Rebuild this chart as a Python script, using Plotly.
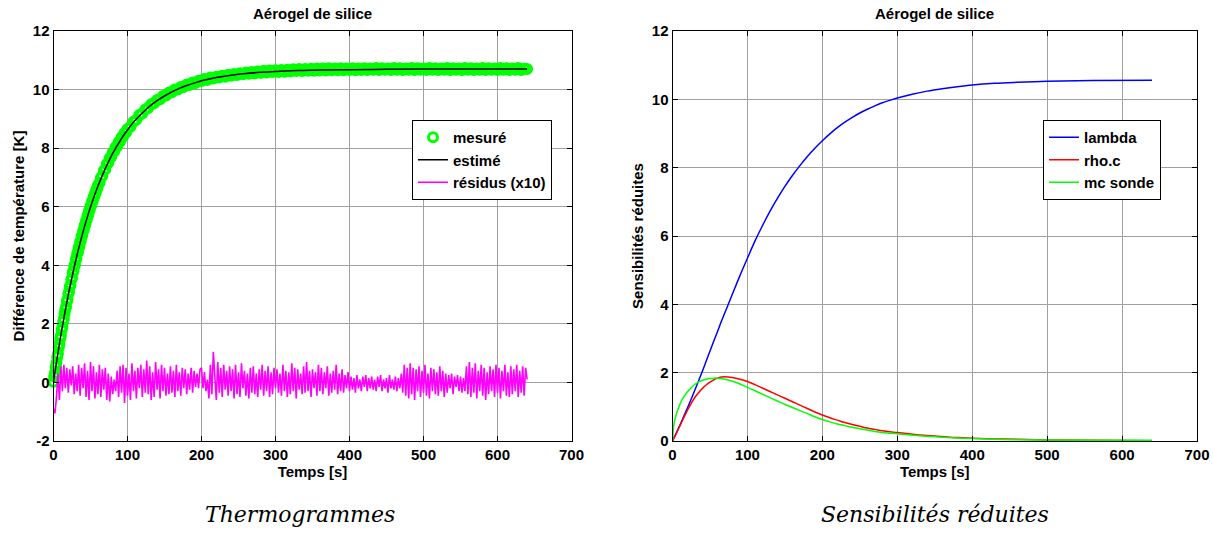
import plotly.graph_objects as go

# ---------------- data ----------------
t_meas_early = list(range(0, 61)) + list(range(62, 99, 2))
t_meas = t_meas_early + list(range(100, 641, 4))
measured = [
    0.02, 0.20, 0.33, 0.53, 0.66, 0.86, 0.98, 1.18, 1.30, 1.49, 1.60, 1.79, 1.89, 2.07, 2.17, 2.35,
    2.50, 2.58, 2.77, 2.84, 3.02, 3.09, 3.27, 3.33, 3.51, 3.57, 3.75, 3.80, 3.97, 4.02, 4.19,
    4.24, 4.40, 4.45, 4.60, 4.65, 4.80, 4.84, 4.99, 5.03, 5.18, 5.21, 5.36, 5.39, 5.53, 5.56,
    5.70, 5.72, 5.86, 5.89, 6.02, 6.04, 6.17, 6.19, 6.32, 6.33, 6.46, 6.47, 6.60, 6.61, 6.73,
    6.81, 6.99, 7.05, 7.23, 7.28, 7.45, 7.50, 7.66, 7.70, 7.85, 7.89, 8.04, 8.06, 8.21, 8.23,
    8.37, 8.39, 8.52, 8.53,
    8.65, 8.73, 8.90, 8.97, 9.13, 9.18, 9.32, 9.37, 9.50, 9.53,
    9.64, 9.67, 9.78, 9.80, 9.90, 9.91, 10.00, 10.00, 10.09, 10.09,
    10.17, 10.16, 10.24, 10.22, 10.30, 10.29, 10.36, 10.33, 10.41, 10.38,
    10.44, 10.41, 10.47, 10.44, 10.51, 10.47, 10.53, 10.50, 10.56, 10.52,
    10.58, 10.54, 10.60, 10.55, 10.62, 10.57, 10.64, 10.58, 10.65, 10.60,
    10.66, 10.60, 10.67, 10.61, 10.68, 10.62, 10.69, 10.63, 10.70, 10.63,
    10.70, 10.64, 10.71, 10.64, 10.72, 10.65, 10.72, 10.65, 10.73, 10.66,
    10.72, 10.66, 10.73, 10.66, 10.72, 10.67, 10.73, 10.66, 10.72, 10.67,
    10.73, 10.67, 10.72, 10.68, 10.74, 10.67, 10.73, 10.68, 10.72, 10.67,
    10.74, 10.68, 10.73, 10.67, 10.72, 10.68, 10.74, 10.67, 10.73, 10.68,
    10.72, 10.67, 10.74, 10.68, 10.73, 10.67, 10.72, 10.68, 10.74, 10.67,
    10.73, 10.68, 10.72, 10.67, 10.74, 10.68, 10.73, 10.67, 10.72, 10.68,
    10.74, 10.67, 10.73, 10.68, 10.72, 10.67, 10.74, 10.68, 10.73, 10.67,
    10.72, 10.68, 10.74, 10.67, 10.71, 10.70]

t_est = [0, 2, 4, 6, 8, 10, 12, 14, 16, 18, 20, 23, 26, 29, 32, 35, 38, 42, 46, 50, 55, 60, 65,
         70, 75, 80, 85, 90, 95, 100, 110, 120, 130, 140, 150, 160, 170, 180, 190, 200, 220,
         240, 260, 280, 300, 330, 360, 400, 450, 500, 560, 640]
estimated = [0, 0.35, 0.68, 1.00, 1.32, 1.62, 1.91, 2.19, 2.47, 2.73, 2.99, 3.36, 3.71, 4.05,
             4.37, 4.67, 4.96, 5.33, 5.67, 5.99, 6.36, 6.70, 7.01, 7.30, 7.57, 7.82, 8.04, 8.25,
             8.45, 8.62, 8.94, 9.20, 9.43, 9.62, 9.78, 9.92, 10.04, 10.14, 10.22, 10.30, 10.41,
             10.49, 10.55, 10.59, 10.62, 10.65, 10.67, 10.68, 10.69, 10.70, 10.70, 10.70]

t_res = list(range(0, 641, 2))
residuals = [
    -0.9, -1.05, -0.5, 0.3, -0.6, 0.55, -0.3, 0.6, -0.2, 0.5, -0.35, 0.45, -0.1, 0.55, -0.4, 0.3, -0.3, 0.6, -0.45, 0.5,
    -0.2, 0.65, -0.5, 0.4, -0.6, 0.7, -0.3, 0.55, -0.55, 0.35, -0.4, 0.6, -0.5, 0.45, -0.25, 0.5, -0.6, 0.3, -0.65, 0.2,
    -0.4, 0.1, -0.3, 0.4, -0.5, 0.55, -0.35, 0.6, -0.7, 0.5, -0.45, 0.3, -0.6, 0.65, -0.3, 0.4, -0.55, 0.5, -0.2, 0.6,
    -0.5, 0.45, -0.35, 0.75, -0.4, 0.55, -0.6, 0.35, -0.5, 0.7, -0.25, 0.45, -0.55, 0.6, -0.3, 0.5, -0.45, 0.3, -0.4, 0.55,
    -0.35, 0.4, -0.5, 0.6, -0.3, 0.35, -0.45, 0.5, -0.2, 0.45, -0.4, 0.3, -0.25, 0.5, -0.35, 0.4, -0.15, 0.3, -0.2, 0.45,
    0.5, -0.2, 0.35, -0.3, 0.1, -0.55, 0.6, -0.4, 1.05, 0.2, -0.6, 0.7, -0.35, 0.5, -0.5, 0.6, -0.25, 0.4, -0.45, 0.55,
    -0.3, 0.45, -0.55, 0.6, -0.4, 0.35, -0.5, 0.65, -0.2, 0.4, -0.45, 0.3, -0.55, 0.5, -0.35, 0.55, -0.4, 0.3, -0.5, 0.45,
    -0.25, 0.6, -0.45, 0.4, -0.3, 0.55, -0.5, 0.35, -0.4, 0.5, -0.2, 0.45, -0.35, 0.3, -0.45, 0.6, -0.3, 0.4, -0.5, 0.35,
    -0.4, 0.65, -0.3, 0.5, -0.55, 0.45, -0.25, 0.3, -0.4, 0.55, -0.35, 0.7, -0.3, 0.4, -0.5, 0.45, -0.2, 0.35, -0.45, 0.6,
    -0.3, 0.5, -0.4, 0.35, -0.2, 0.55, -0.45, 0.3, -0.35, 0.4, -0.25, 0.6, -0.4, 0.3, -0.3, 0.45, -0.35, 0.25, -0.2, 0.35,
    -0.3, 0.2, -0.25, 0.15, -0.35, 0.25, -0.2, 0.1, -0.3, 0.2, -0.15, 0.25, -0.3, 0.15, -0.2, 0.2, -0.25, 0.1, -0.3, 0.2,
    -0.15, 0.25, -0.3, 0.1, -0.2, 0.15, -0.35, 0.25, -0.2, 0.1, -0.25, 0.2, -0.3, 0.15, -0.2, 0.3, -0.35, 0.6, -0.45, 0.5,
    -0.55, 0.65, -0.4, 0.5, -0.6, 0.45, -0.3, 0.55, -0.5, 0.4, -0.35, 0.6, -0.45, 0.3, -0.55, 0.5, -0.3, 0.45, -0.4, 0.35,
    -0.45, 0.55, -0.3, 0.4, -0.5, 0.3, -0.35, 0.25, -0.2, 0.3, -0.4, 0.2, -0.15, 0.25, -0.3, 0.2, -0.35, 0.15, -0.3, 0.55,
    -0.4, 0.7, -0.5, 0.5, -0.35, 0.65, -0.55, 0.4, -0.3, 0.6, -0.45, 0.5, -0.6, 0.35, -0.4, 0.55, -0.3, 0.45, -0.5, 0.6,
    -0.35, 0.5, -0.55, 0.4, -0.3, 0.6, -0.45, 0.35, -0.5, 0.55, -0.4, 0.45, -0.3, 0.6, -0.5, 0.4, -0.35, 0.55, -0.45, 0.5,
    0.1]

t_sens = [0, 2, 5, 10, 15, 20, 25, 30, 35, 40, 45, 50, 55, 60, 65, 70, 75, 80, 90, 100, 110, 120,
          130, 140, 150, 160, 170, 180, 190, 200, 210, 220, 230, 240, 250, 260, 270, 280, 290,
          300, 320, 340, 360, 380, 400, 430, 460, 500, 560, 640]
sens_lambda = [0, 0.09, 0.23, 0.47, 0.72, 0.97, 1.23, 1.50, 1.77, 2.05, 2.34, 2.63, 2.92, 3.20,
               3.49, 3.76, 4.03, 4.30, 4.84, 5.35, 5.85, 6.30, 6.72, 7.10, 7.45, 7.77, 8.06,
               8.33, 8.57, 8.79, 8.99, 9.17, 9.33, 9.47, 9.60, 9.71, 9.81, 9.90, 9.97, 10.04,
               10.15, 10.24, 10.31, 10.37, 10.42, 10.47, 10.50, 10.53, 10.55, 10.56]
sens_rhoc = [0, 0.09, 0.22, 0.45, 0.68, 0.90, 1.10, 1.28, 1.42, 1.54, 1.64, 1.72, 1.79, 1.84,
             1.87, 1.88, 1.87, 1.86, 1.81, 1.74, 1.65, 1.55, 1.45, 1.35, 1.25, 1.15, 1.05, 0.95,
             0.85, 0.76, 0.68, 0.61, 0.54, 0.48, 0.43, 0.38, 0.34, 0.30, 0.27, 0.25, 0.20, 0.16,
             0.13, 0.10, 0.08, 0.06, 0.05, 0.03, 0.02, 0.01]
sens_mc = [0, 0.50, 0.78, 1.08, 1.29, 1.44, 1.56, 1.66, 1.73, 1.78, 1.81, 1.83, 1.84, 1.84, 1.83,
           1.81, 1.78, 1.75, 1.67, 1.57, 1.47, 1.37, 1.27, 1.17, 1.07, 0.98, 0.89, 0.80, 0.71,
           0.63, 0.56, 0.50, 0.45, 0.40, 0.36, 0.32, 0.28, 0.25, 0.23, 0.21, 0.17, 0.14, 0.11,
           0.09, 0.07, 0.05, 0.04, 0.03, 0.02, 0.02]

x_ticks = [0, 100, 200, 300, 400, 500, 600, 700]
y_ticks_left = [-2, 0, 2, 4, 6, 8, 10, 12]
y_ticks_right = [0, 2, 4, 6, 8, 10, 12]

title_text = "Aérogel de silice"
caption_left = "Thermogrammes"
caption_right = "Sensibilités réduites"

# ---------------- figure ----------------
W, H = 1213, 533
FONT = "Liberation Sans, Arial, sans-serif"


def px_x(p):
    return p / W


def px_y(p):
    return 1 - p / H


fig = go.Figure()

fig.add_trace(go.Scatter(x=t_meas, y=measured, mode="markers", name="<b>mesuré</b>",
                         marker=dict(symbol="circle-open", size=9, color="#00ff00",
                                     line=dict(width=3, color="#00ff00")),
                         cliponaxis=False, xaxis="x", yaxis="y", legend="legend"))
fig.add_trace(go.Scatter(x=t_est, y=estimated, mode="lines", name="<b>estimé</b>",
                         line=dict(color="black", width=1.5, shape="spline"),
                         xaxis="x", yaxis="y", legend="legend"))
fig.add_trace(go.Scatter(x=t_res, y=residuals, mode="lines", name="<b>résidus (x10)</b>",
                         line=dict(color="#ff00ff", width=1.6),
                         xaxis="x", yaxis="y", legend="legend"))

fig.add_trace(go.Scatter(x=t_sens, y=sens_lambda, mode="lines", name="<b>lambda</b>",
                         line=dict(color="#0000ff", width=1.5, shape="spline"),
                         xaxis="x2", yaxis="y2", legend="legend2"))
fig.add_trace(go.Scatter(x=t_sens, y=sens_rhoc, mode="lines", name="<b>rho.c</b>",
                         line=dict(color="#ff0000", width=1.5, shape="spline"),
                         xaxis="x2", yaxis="y2", legend="legend2"))
fig.add_trace(go.Scatter(x=t_sens, y=sens_mc, mode="lines", name="<b>mc sonde</b>",
                         line=dict(color="#00ff00", width=1.5, shape="spline"),
                         xaxis="x2", yaxis="y2", legend="legend2"))

ydom = [px_y(441), px_y(31)]
xdom1 = [px_x(53.5), px_x(571.5)]
xdom2 = [px_x(672.5), px_x(1197)]

axis_common = dict(
    showline=True, linecolor="black", linewidth=1, mirror="ticks",
    ticks="inside", ticklen=5, tickcolor="black",
    showgrid=True, gridcolor="#a0a0a0", gridwidth=1, zeroline=False,
    tickfont=dict(family=FONT, size=15, color="black", weight="bold"),
    automargin=False,
)
title_font = dict(family=FONT, size=15, color="black")

fig.update_layout(
    width=W, height=H, margin=dict(l=0, r=0, t=0, b=0, autoexpand=False),
    paper_bgcolor="white", plot_bgcolor="white",
    font=dict(family=FONT, color="black"),
    xaxis=dict(domain=xdom1, range=[0, 700], tickvals=x_ticks, anchor="y",
               title=dict(text="<b>Temps [s]</b>", font=title_font, standoff=2),
               **axis_common),
    yaxis=dict(domain=ydom, range=[-2, 12], tickvals=y_ticks_left,
               ticktext=[str(v) for v in y_ticks_left], anchor="x",
               title=dict(text="<b>Différence de température [K]</b>", font=title_font, standoff=4),
               **axis_common),
    xaxis2=dict(domain=xdom2, range=[0, 700], tickvals=x_ticks, anchor="y2",
                title=dict(text="<b>Temps [s]</b>", font=title_font, standoff=2),
                **axis_common),
    yaxis2=dict(domain=ydom, range=[0, 12], tickvals=y_ticks_right, anchor="x2",
                title=dict(text="<b>Sensibilités réduites</b>", font=title_font, standoff=4),
                **axis_common),
    legend=dict(x=px_x(412), y=px_y(120), xanchor="left", yanchor="top",
                bgcolor="white", bordercolor="black", borderwidth=1,
                font=dict(family=FONT, size=15, color="black"),
                tracegroupgap=0, itemwidth=30),
    legend2=dict(x=px_x(1043), y=px_y(120), xanchor="left", yanchor="top",
                 bgcolor="white", bordercolor="black", borderwidth=1,
                 font=dict(family=FONT, size=15, color="black"),
                 tracegroupgap=0, itemwidth=30),
    showlegend=True,
)

for xc in [(xdom1[0] + xdom1[1]) / 2, (xdom2[0] + xdom2[1]) / 2]:
    fig.add_annotation(text="<b>" + title_text + "</b>", x=xc, y=px_y(13), xref="paper", yref="paper",
                       showarrow=False, xanchor="center", yanchor="middle",
                       font=dict(family=FONT, size=15, color="black"))

fig.add_annotation(text="<i>" + caption_left + "</i>", x=px_x(300), y=px_y(514), xref="paper", yref="paper",
                   showarrow=False, xanchor="center", yanchor="middle",
                   font=dict(family="DejaVu Serif, serif", size=22, color="black"))
fig.add_annotation(text="<i>" + caption_right + "</i>", x=px_x(935), y=px_y(514), xref="paper", yref="paper",
                   showarrow=False, xanchor="center", yanchor="middle",
                   font=dict(family="DejaVu Serif, serif", size=22, color="black"))

# remove the default 8 px body margin so the figure fills the window exactly
fig.write_html("out.html",
               config={"displayModeBar": False},
               post_script="document.body.style.margin='0px';document.body.style.overflow='hidden';")
